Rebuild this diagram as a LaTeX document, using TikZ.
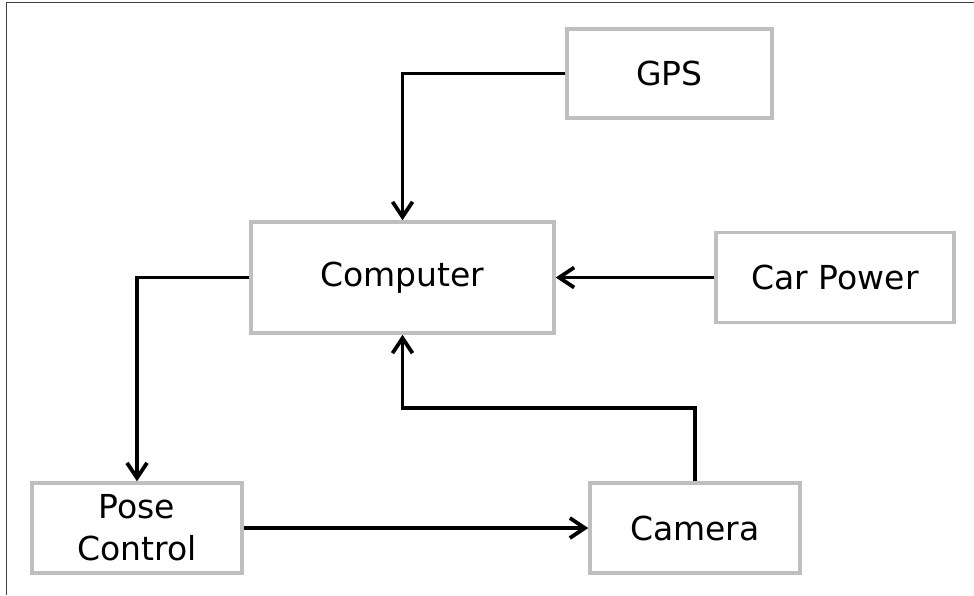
\documentclass[tikz,border=0pt]{standalone}
\usepackage{fontspec}
\setmainfont{DejaVu Sans}
\usetikzlibrary{arrows.meta}
\begin{document}
\begin{tikzpicture}[x=1pt,y=-1pt,
  block/.style={draw=black!25, line width=3.5pt, fill=white, inner sep=0pt,
    align=center, font=\fontsize{33}{42}\selectfont},
  link/.style={line width=3.8pt, -{Straight Barb[length=15pt,width=20pt]}}]
  \useasboundingbox (0,0) rectangle (974,595);
  % frame lines on top and left
  \draw[black!75, line width=1.5pt] (6.5,595) -- (6.5,2.5) -- (974,2.5);

  \node[block, minimum width=205pt, minimum height=89pt] (gps) at (669.5,73.5) {GPS};
  \node[block, minimum width=303pt, minimum height=111pt] (comp) at (402.5,277.5) {Computer};
  \node[block, minimum width=238pt, minimum height=90pt] (pwr) at (835,277.5) {Car Power};
  \node[block, minimum width=210pt, minimum height=90pt] (pose) at (137,528) {Pose\\Control};
  \node[block, minimum width=210pt, minimum height=90pt] (cam) at (695,528) {Camera};

  \coordinate (bend) at (402.5,408);

  \draw[link] (gps.west) -| (comp.north);
  \draw[link] (pwr.west) -- (comp.east);
  \draw[link] (comp.west) -| (pose.north);
  \draw[link] (pose.east) -- (cam.west);
  \draw[link] (cam.north) |- (bend) -- (comp.south);
\end{tikzpicture}
\end{document}
